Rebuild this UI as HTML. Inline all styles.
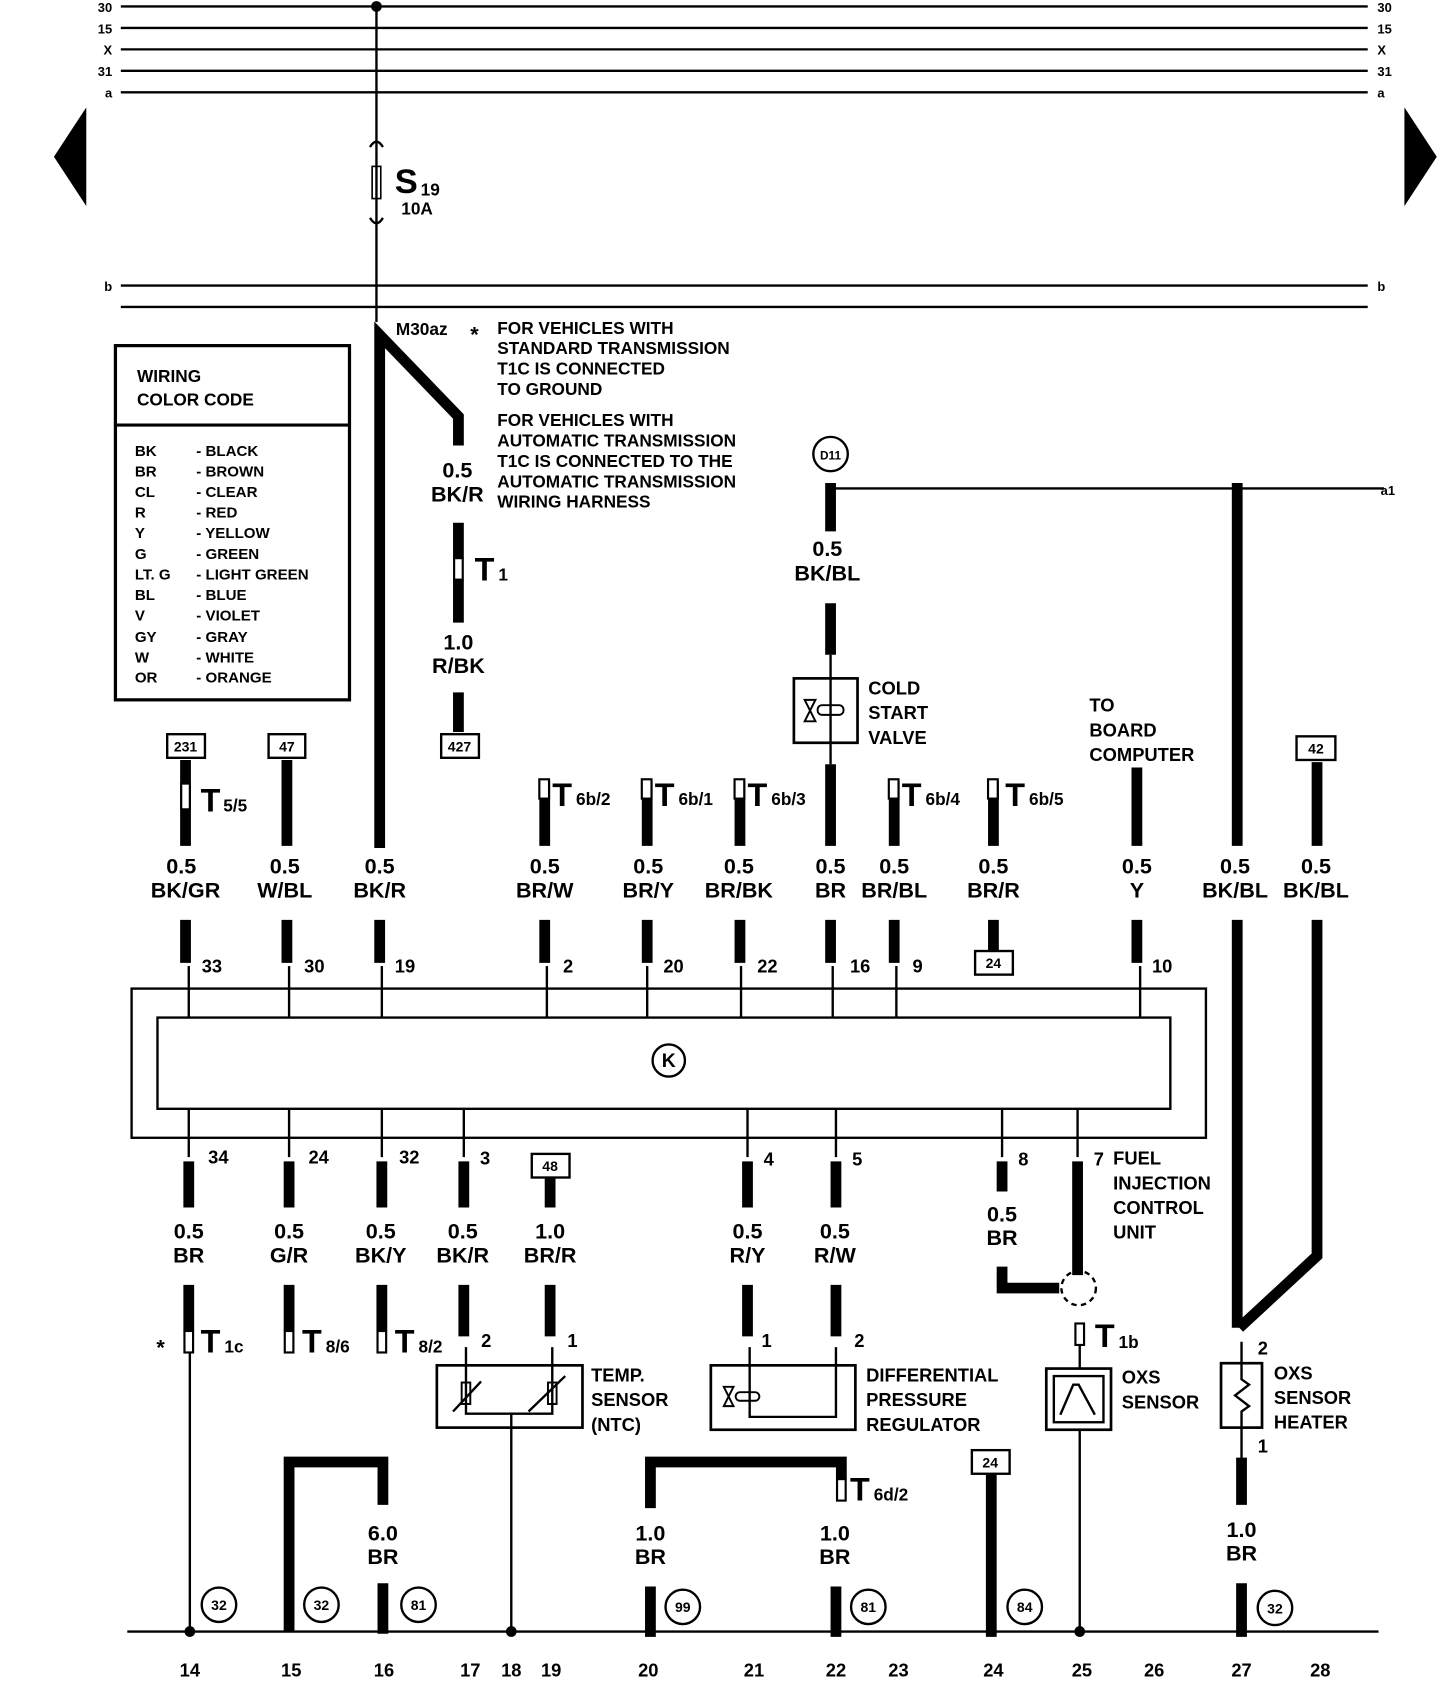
<!DOCTYPE html>
<html><head><meta charset="utf-8"><style>
html,body{margin:0;padding:0;background:#fff;}
svg{display:block;}
text{font-family:"Liberation Sans",sans-serif;font-weight:bold;fill:#000;}
</style></head><body>
<svg width="1440" height="1682" viewBox="0 0 1335 1567" preserveAspectRatio="none" xmlns="http://www.w3.org/2000/svg">
<g stroke="#000" stroke-width="2.2" fill="none">
<line x1="112" y1="6" x2="1268" y2="6"/><line x1="112" y1="26" x2="1268" y2="26"/>
<line x1="112" y1="46" x2="1268" y2="46"/><line x1="112" y1="66" x2="1268" y2="66"/>
<line x1="112" y1="86" x2="1268" y2="86"/><line x1="112" y1="266" x2="1268" y2="266"/>
<line x1="112" y1="286" x2="1268" y2="286"/>
<line x1="349" y1="6" x2="349" y2="300"/>
<rect x="345" y="155" width="8" height="30" stroke-width="1.5"/>
<path d="M343,137 Q349,127 355,137 M343,203 Q349,213 355,203"/>
<rect x="107" y="322" width="217" height="330" stroke-width="3"/>
<line x1="107" y1="396" x2="324" y2="396" stroke-width="3"/>
<line x1="770" y1="455" x2="1283" y2="455"/>
<circle cx="770" cy="423" r="16"/>
<rect x="736" y="632" width="59" height="60" stroke-width="2.5"/>
<line x1="770" y1="610" x2="770" y2="712"/>
<path d="M746,652 L756,652 L746,672 L756,672 Z" stroke-width="1.8"/>
<rect x="758" y="657" width="24" height="9" rx="4" stroke-width="1.8"/>
<rect x="122" y="921" width="996" height="139"/>
<rect x="146" y="948" width="939" height="85"/>
<circle cx="620" cy="988" r="15"/>
<g>
<line x1="175" y1="900" x2="175" y2="948"/><line x1="268" y1="900" x2="268" y2="948"/>
<line x1="354" y1="900" x2="354" y2="948"/><line x1="507" y1="900" x2="507" y2="948"/>
<line x1="600" y1="900" x2="600" y2="948"/><line x1="687" y1="900" x2="687" y2="948"/>
<line x1="772" y1="900" x2="772" y2="948"/><line x1="831" y1="900" x2="831" y2="948"/>
<line x1="1057" y1="900" x2="1057" y2="948"/>
<line x1="175" y1="1033" x2="175" y2="1078"/><line x1="268" y1="1033" x2="268" y2="1078"/>
<line x1="354" y1="1033" x2="354" y2="1078"/><line x1="430" y1="1033" x2="430" y2="1078"/>
<line x1="693" y1="1033" x2="693" y2="1078"/><line x1="775" y1="1033" x2="775" y2="1078"/>
<line x1="929" y1="1033" x2="929" y2="1078"/><line x1="999" y1="1033" x2="999" y2="1078"/>
</g>
<rect x="405" y="1272" width="135" height="58" stroke-width="2.5"/>
<polyline points="432,1255 432,1317 512,1317 512,1255"/>
<rect x="428" y="1288" width="8" height="20" stroke-width="1.8"/><rect x="508" y="1288" width="8" height="20" stroke-width="1.8"/>
<path d="M420,1315 L446,1287 M490,1315 L524,1282"/>
<line x1="474" y1="1317" x2="474" y2="1520"/>
<rect x="659" y="1272" width="134" height="60" stroke-width="2.5"/>
<polyline points="695,1255 695,1320 775,1320 775,1255"/>
<path d="M671,1292 L680,1292 L671,1310 L680,1310 Z" stroke-width="1.8"/>
<rect x="682" y="1297" width="22" height="8" rx="4" stroke-width="1.8"/>
<rect x="970" y="1275" width="60" height="57" stroke-width="2.5"/>
<rect x="977" y="1282" width="46" height="43"/>
<polyline points="983,1318 995,1290 1000,1290 1015,1318"/>
<line x1="1001" y1="1332" x2="1001" y2="1520"/>
<line x1="1001" y1="1240" x2="1001" y2="1275"/>
<rect x="1132" y="1270" width="38" height="60" stroke-width="2.5"/>
<polyline points="1151,1250 1151,1285 1158,1290 1145,1300 1158,1310 1151,1315 1151,1360"/>
<circle cx="1000" cy="1200" r="16" stroke-dasharray="5,4"/>
<line x1="176" y1="1260" x2="176" y2="1520"/>
<line x1="118" y1="1520" x2="1278" y2="1520"/>
<circle cx="203" cy="1495" r="16"/><circle cx="298" cy="1495" r="16"/><circle cx="388" cy="1495" r="16"/>
<circle cx="633" cy="1497" r="16"/><circle cx="805" cy="1497" r="16"/><circle cx="950" cy="1497" r="16"/>
<circle cx="1182" cy="1498" r="16"/>
<rect x="155" y="684" width="35" height="22"/><rect x="249" y="684" width="34" height="22"/>
<rect x="409" y="684" width="35" height="22"/><rect x="1202" y="686" width="36" height="22"/>
<rect x="904" y="886" width="35" height="22"/><rect x="493" y="1075" width="35" height="22"/>
<rect x="901" y="1351" width="35" height="22"/>
</g>
<g fill="#000">
<circle cx="349" cy="6" r="5"/>
<polygon points="80,100 80,192 50,146"/><polygon points="1302,100 1302,192 1332,146"/>
<circle cx="176" cy="1520" r="5"/><circle cx="474" cy="1520" r="5"/><circle cx="1001" cy="1520" r="5"/>
</g>
<g stroke="#000" stroke-width="10" fill="none" stroke-linecap="butt">
<polyline points="352,790 352,312 425,388 425,415"/>
<line x1="425" y1="487" x2="425" y2="520"/><line x1="425" y1="540" x2="425" y2="580"/>
<line x1="425" y1="645" x2="425" y2="682"/>
<line x1="770" y1="450" x2="770" y2="495"/><line x1="770" y1="562" x2="770" y2="610"/>
<line x1="770" y1="712" x2="770" y2="788"/>
<polyline points="1147,450 1147,788"/>
<line x1="1221" y1="710" x2="1221" y2="788"/>
<polyline points="1221,857 1221,1170 1149,1237"/><line x1="1147" y1="857" x2="1147" y2="1237"/>
<g>
<line x1="172" y1="708" x2="172" y2="788"/><line x1="266" y1="708" x2="266" y2="788"/>
<line x1="505" y1="728" x2="505" y2="788"/><line x1="600" y1="728" x2="600" y2="788"/>
<line x1="686" y1="728" x2="686" y2="788"/><line x1="829" y1="728" x2="829" y2="788"/>
<line x1="921" y1="728" x2="921" y2="788"/><line x1="1054" y1="715" x2="1054" y2="788"/>
<line x1="172" y1="857" x2="172" y2="897"/><line x1="266" y1="857" x2="266" y2="897"/>
<line x1="352" y1="857" x2="352" y2="897"/><line x1="505" y1="857" x2="505" y2="897"/>
<line x1="600" y1="857" x2="600" y2="897"/><line x1="686" y1="857" x2="686" y2="897"/>
<line x1="770" y1="857" x2="770" y2="897"/><line x1="829" y1="857" x2="829" y2="897"/>
<line x1="921" y1="857" x2="921" y2="886"/><line x1="1054" y1="857" x2="1054" y2="897"/>
<line x1="175" y1="1082" x2="175" y2="1125"/><line x1="268" y1="1082" x2="268" y2="1125"/>
<line x1="354" y1="1082" x2="354" y2="1125"/><line x1="430" y1="1082" x2="430" y2="1125"/>
<line x1="510" y1="1097" x2="510" y2="1125"/><line x1="693" y1="1082" x2="693" y2="1125"/>
<line x1="775" y1="1082" x2="775" y2="1125"/><line x1="929" y1="1082" x2="929" y2="1110"/>
<line x1="999" y1="1082" x2="999" y2="1188"/>
<polyline points="929,1180 929,1200 982,1200"/>
<line x1="175" y1="1197" x2="175" y2="1240"/><line x1="268" y1="1197" x2="268" y2="1240"/>
<line x1="354" y1="1197" x2="354" y2="1240"/><line x1="430" y1="1197" x2="430" y2="1245"/>
<line x1="510" y1="1197" x2="510" y2="1245"/><line x1="693" y1="1197" x2="693" y2="1245"/>
<line x1="775" y1="1197" x2="775" y2="1245"/>
<polyline points="268,1520 268,1362 355,1362 355,1402"/><line x1="355" y1="1475" x2="355" y2="1522"/>
<polyline points="603,1405 603,1362 780,1362 780,1378"/>
<line x1="603" y1="1478" x2="603" y2="1525"/><line x1="775" y1="1478" x2="775" y2="1525"/>
<line x1="919" y1="1373" x2="919" y2="1525"/>
<line x1="1151" y1="1358" x2="1151" y2="1402"/><line x1="1151" y1="1475" x2="1151" y2="1525"/>
</g>
</g>
<g fill="#fff" stroke="#000" stroke-width="2">
<rect x="421" y="520" width="8" height="20"/>
<rect x="168" y="730" width="8" height="24"/>
<rect x="500" y="726" width="9" height="18"/><rect x="595" y="726" width="9" height="18"/>
<rect x="681" y="726" width="9" height="18"/><rect x="824" y="726" width="9" height="18"/>
<rect x="916" y="726" width="9" height="18"/>
<rect x="171" y="1240" width="8" height="20"/><rect x="264" y="1240" width="8" height="20"/>
<rect x="350" y="1240" width="8" height="20"/><rect x="997" y="1233" width="8" height="20"/>
<rect x="776" y="1378" width="8" height="20"/>
</g>
<g font-size="12" text-anchor="end">
<text x="104" y="11">30</text><text x="104" y="31">15</text><text x="104" y="51">X</text>
<text x="104" y="71">31</text><text x="104" y="91">a</text><text x="104" y="271">b</text>
</g>
<g font-size="12">
<text x="1277" y="11">30</text><text x="1277" y="31">15</text><text x="1277" y="51">X</text>
<text x="1277" y="71">31</text><text x="1277" y="91">a</text><text x="1277" y="271">b</text>
<text x="1280" y="461">a1</text>
</g>
<text x="366" y="180" font-size="32">S</text><text x="390" y="182" font-size="16" font-weight="normal">19</text>
<text x="372" y="200" font-size="16" font-weight="normal">10A</text>
<text x="367" y="312" font-size="16" font-weight="normal">M30az</text>
<text x="436" y="318" font-size="20">*</text>
<g font-size="16">
<text x="461" y="311">FOR VEHICLES WITH</text><text x="461" y="330">STANDARD TRANSMISSION</text>
<text x="461" y="349">T1C IS CONNECTED</text><text x="461" y="368">TO GROUND</text>
<text x="461" y="397">FOR VEHICLES WITH</text><text x="461" y="416">AUTOMATIC TRANSMISSION</text>
<text x="461" y="435">T1C IS CONNECTED TO THE</text><text x="461" y="454">AUTOMATIC TRANSMISSION</text>
<text x="461" y="473">WIRING HARNESS</text>
<text x="127" y="356">WIRING</text><text x="127" y="378">COLOR CODE</text>
</g>
<g font-size="14">
<text x="125" y="425">BK</text><text x="125" y="444">BR</text><text x="125" y="463">CL</text><text x="125" y="482">R</text>
<text x="125" y="501">Y</text><text x="125" y="521">G</text><text x="125" y="540">LT. G</text><text x="125" y="559">BL</text>
<text x="125" y="578">V</text><text x="125" y="598">GY</text><text x="125" y="617">W</text><text x="125" y="636">OR</text>
<text x="182" y="425">- BLACK</text><text x="182" y="444">- BROWN</text><text x="182" y="463">- CLEAR</text><text x="182" y="482">- RED</text>
<text x="182" y="501">- YELLOW</text><text x="182" y="521">- GREEN</text><text x="182" y="540">- LIGHT GREEN</text><text x="182" y="559">- BLUE</text>
<text x="182" y="578">- VIOLET</text><text x="182" y="598">- GRAY</text><text x="182" y="617">- WHITE</text><text x="182" y="636">- ORANGE</text>
</g>
<text x="770" y="428" font-size="11" text-anchor="middle">D11</text>
<text x="620" y="994" font-size="18" text-anchor="middle">K</text>
<g font-size="17">
<text x="805" y="647">COLD</text><text x="805" y="670">START</text><text x="805" y="693">VALVE</text>
<text x="1010" y="663">TO</text><text x="1010" y="686">BOARD</text><text x="1010" y="709">COMPUTER</text>
<text x="1032" y="1085">FUEL</text><text x="1032" y="1108">INJECTION</text><text x="1032" y="1131">CONTROL</text><text x="1032" y="1154">UNIT</text>
<text x="548" y="1287">TEMP.</text><text x="548" y="1310">SENSOR</text><text x="548" y="1333">(NTC)</text>
<text x="803" y="1287">DIFFERENTIAL</text><text x="803" y="1310">PRESSURE</text><text x="803" y="1333">REGULATOR</text>
<text x="1040" y="1289">OXS</text><text x="1040" y="1312">SENSOR</text>
<text x="1181" y="1285">OXS</text><text x="1181" y="1308">SENSOR</text><text x="1181" y="1331">HEATER</text>
</g>
<g font-size="13" text-anchor="middle">
<text x="172" y="700">231</text><text x="266" y="700">47</text><text x="426" y="700">427</text><text x="1220" y="702">42</text>
<text x="921" y="902">24</text><text x="510" y="1091">48</text><text x="918" y="1367">24</text>
<text x="203" y="1500">32</text><text x="298" y="1500">32</text><text x="388" y="1500">81</text>
<text x="633" y="1502">99</text><text x="805" y="1502">81</text><text x="950" y="1502">84</text><text x="1182" y="1503">32</text>
</g>
<g font-size="20" font-weight="normal" text-anchor="middle">
<text x="424" y="445">0.5</text><text x="424" y="467">BK/R</text>
<text x="425" y="605">1.0</text><text x="425" y="627">R/BK</text>
<text x="767" y="518">0.5</text><text x="767" y="541">BK/BL</text>
<text x="168" y="814">0.5</text><text x="172" y="836">BK/GR</text>
<text x="264" y="814">0.5</text><text x="264" y="836">W/BL</text>
<text x="352" y="814">0.5</text><text x="352" y="836">BK/R</text>
<text x="505" y="814">0.5</text><text x="505" y="836">BR/W</text>
<text x="601" y="814">0.5</text><text x="601" y="836">BR/Y</text>
<text x="685" y="814">0.5</text><text x="685" y="836">BR/BK</text>
<text x="770" y="814">0.5</text><text x="770" y="836">BR</text>
<text x="829" y="814">0.5</text><text x="829" y="836">BR/BL</text>
<text x="921" y="814">0.5</text><text x="921" y="836">BR/R</text>
<text x="1054" y="814">0.5</text><text x="1054" y="836">Y</text>
<text x="1145" y="814">0.5</text><text x="1145" y="836">BK/BL</text>
<text x="1220" y="814">0.5</text><text x="1220" y="836">BK/BL</text>
<text x="175" y="1154">0.5</text><text x="175" y="1176">BR</text>
<text x="268" y="1154">0.5</text><text x="268" y="1176">G/R</text>
<text x="353" y="1154">0.5</text><text x="353" y="1176">BK/Y</text>
<text x="429" y="1154">0.5</text><text x="429" y="1176">BK/R</text>
<text x="510" y="1154">1.0</text><text x="510" y="1176">BR/R</text>
<text x="693" y="1154">0.5</text><text x="693" y="1176">R/Y</text>
<text x="774" y="1154">0.5</text><text x="774" y="1176">R/W</text>
<text x="929" y="1138">0.5</text><text x="929" y="1160">BR</text>
<text x="355" y="1435">6.0</text><text x="355" y="1457">BR</text>
<text x="603" y="1435">1.0</text><text x="603" y="1457">BR</text>
<text x="774" y="1435">1.0</text><text x="774" y="1457">BR</text>
<text x="1151" y="1432">1.0</text><text x="1151" y="1454">BR</text>
</g>
<g font-size="17" font-weight="normal">
<text x="187" y="906">33</text><text x="282" y="906">30</text><text x="366" y="906">19</text>
<text x="522" y="906">2</text><text x="615" y="906">20</text><text x="702" y="906">22</text>
<text x="788" y="906">16</text><text x="846" y="906">9</text><text x="1068" y="906">10</text>
<text x="193" y="1084">34</text><text x="286" y="1084">24</text><text x="370" y="1084">32</text>
<text x="445" y="1085">3</text><text x="708" y="1086">4</text><text x="790" y="1086">5</text>
<text x="944" y="1086">8</text><text x="1014" y="1086">7</text>
<text x="446" y="1255">2</text><text x="526" y="1255">1</text><text x="706" y="1255">1</text><text x="792" y="1255">2</text>
<text x="1166" y="1262">2</text><text x="1166" y="1353">1</text>
</g>
<g font-size="30" font-weight="normal">
<text x="440" y="541">T</text><text x="186" y="756">T</text>
<text x="512" y="751">T</text><text x="607" y="751">T</text><text x="693" y="751">T</text>
<text x="836" y="751">T</text><text x="932" y="751">T</text>
<text x="186" y="1260">T</text><text x="280" y="1260">T</text><text x="366" y="1260">T</text>
<text x="1015" y="1255">T</text><text x="788" y="1398">T</text>
</g>
<g font-size="16" font-weight="normal">
<text x="462" y="541">1</text><text x="207" y="756">5/5</text>
<text x="534" y="750">6b/2</text><text x="629" y="750">6b/1</text><text x="715" y="750">6b/3</text>
<text x="858" y="750">6b/4</text><text x="954" y="750">6b/5</text>
<text x="208" y="1260">1c</text><text x="302" y="1260">8/6</text><text x="388" y="1260">8/2</text>
<text x="1037" y="1256">1b</text><text x="810" y="1398">6d/2</text>
</g>
<text x="145" y="1262" font-size="20">*</text>
<g font-size="17" text-anchor="middle">
<text x="176" y="1562">14</text><text x="270" y="1562">15</text><text x="356" y="1562">16</text>
<text x="436" y="1562">17</text><text x="474" y="1562">18</text><text x="511" y="1562">19</text>
<text x="601" y="1562">20</text><text x="699" y="1562">21</text><text x="775" y="1562">22</text>
<text x="833" y="1562">23</text><text x="921" y="1562">24</text><text x="1003" y="1562">25</text>
<text x="1070" y="1562">26</text><text x="1151" y="1562">27</text><text x="1224" y="1562">28</text>
</g>
</svg>
</body></html>
